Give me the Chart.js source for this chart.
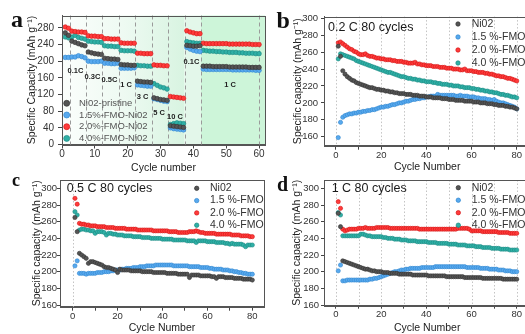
<!DOCTYPE html>
<html>
<head>
<meta charset="utf-8">
<script src="https://cdn.jsdelivr.net/npm/chart.js@4.4.1/dist/chart.umd.min.js"></script>
<style>
  html, body { margin: 0; padding: 0; background: #fff; overflow: hidden; width: 525px; height: 334px; }
  canvas { position: absolute; }
</style>
</head>
<body>
<canvas id="pa" width="270" height="176" style="left:0;top:0"></canvas>
<canvas id="pb" width="300" height="176" style="left:262px;top:0"></canvas>
<canvas id="pc" width="270" height="164" style="left:0;top:170px"></canvas>
<canvas id="pd" width="300" height="164" style="left:262px;top:170px"></canvas>
<script>
// ---- data ----
const cycA = [1,2,3,4,5,6,7,8,9,10,11,12,13,14,15,16,17,18,19,20,21,22,23,24,25,26,27,28,29,30,
  31,32,33,34,35,36,37,38,39,40,41,42,43,44,45,46,47,48,49,50,51,52,53,54,55,56,57,58,59,60];
const cyc80 = [1,2,3,4,5,6,7,8,9,10,11,12,13,14,15,16,17,18,19,20,21,22,23,24,25,26,27,28,29,30,
  31,32,33,34,35,36,37,38,39,40,41,42,43,44,45,46,47,48,49,50,51,52,53,54,55,56,57,58,59,60,
  61,62,63,64,65,66,67,68,69,70,71,72,73,74,75,76,77,78,79,80];

const namesA = ['Ni02-pristine', '1.5%-FMO-Ni02', '2.0%-FMO-Ni02', '4.0%-FMO-Ni02'];
const namesBCD = ['Ni02', '1.5 %-FMO', '2.0 %-FMO', '4.0 %-FMO'];

// panel a : rate capability
const grayA = [268,262, 248,245,242,239,237, 222,220,218,217,216, 207,206,205,205,204, 192,191,191,190,190,
  152,151,150,150,149, 112,110,108,107,106, 45,44,43,42,41, 238,237,236,236,237,
  188,188,188,187,187,187,187,187,186,186,186,186,186,186,185,185,185,185];
const blueA = [209,209, 210,210,213,211,208, 200,199,199,199,200, 195,195,194,194,195, 183,183,183,183,184,
  143,142,141,140,140, 110,108,106,104,103, 40,38,37,36,35, 233,229,226,224,223,
  181,180,180,180,180,180,180,180,180,179,179,179,179,179,179,179,178,178];
const redA = [282,279, 272,271,270,270,269, 261,260,260,259,259, 254,254,253,253,253, 244,243,243,243,243,
  219,219,218,218,218, 191,190,190,189,189, 115,114,113,112,111, 273,270,268,266,266,
  243,242,242,242,242,242,242,242,241,241,241,241,241,241,241,240,240,240];
const tealA = [258,256, 258,262,257,255,253, 248,247,246,246,245, 237,236,236,235,235, 226,225,225,225,224,
  190,189,189,188,188, 146,142,138,136,133, 48,50,52,51,50, 247,245,244,243,243,
  226,225,224,224,223,223,222,222,221,221,221,220,220,219,219,219,218,218];
const rateLabels = ['0.1C', '0.3C', '0.5C', '1 C', '3 C', '5 C', '10 C', '0.1C', '1 C'];
const rateEdges = [2.3, 7.3, 12.3, 17.3, 22.3, 27.3, 32.3, 37.3, 42.3, 60];

// panel b : 0.2 C
const grayB = [267,255,238,234,231,229,227,226,224,223, 222,221,220,219,218,218,217,216,216,215,
  215,214,214,213,213,212,212,211,211,211, 210,210,210,209,209,209,208,208,208,207,
  207,207,206,206,206,206,205,205,205,204, 204,204,203,203,203,203,202,202,202,202,
  201,201,201,200,200,200,199,199,199,198, 198,197,197,197,196,196,195,195,194,193];
const blueB = [159,177,183,185,186,187,187,188,188,189, 189,190,190,191,191,192,192,193,194,195,
  195,196,196,197,198,198,199,200,200,201, 202,202,203,204,204,205,205,206,206,207,
  207,208,208,208,210,209,209,209,209,209, 209,209,208,208,209,208,208,208,207,207,
  207,206,206,205,205,205,204,204,203,204, 202,201,200,200,199,198,197,196,195,193];
const redB = [271,272,270,268,266,264,263,261,260,258, 257,257,258,256,255,255,254,253,253,252,
  252,251,251,251,250,250,249,249,249,248, 248,247,247,247,248,246,246,245,245,244,
  244,244,243,243,243,242,242,242,241,241, 241,240,240,240,239,239,240,238,238,238,
  237,237,236,236,236,235,235,234,234,233, 232,232,231,231,230,229,229,228,227,226];
const tealB = [252,258,257,256,255,254,253,252,250,249, 248,247,246,245,244,243,242,241,240,239,
  238,237,236,236,235,234,233,232,231,231, 230,229,229,228,228,227,227,226,226,225,
  225,225,224,224,223,223,222,222,222,221, 221,220,220,220,219,219,218,218,218,217,
  217,216,216,215,215,214,214,213,213,212, 212,211,210,210,209,209,208,207,207,206];

// panel c : 0.5 C
const grayC = [265,248,222,220,218,216,210,212,212,211, 210,209,208,206,205,205,204,203,202,199,
  203,202,202,202,202,201,201,201,201,201, 200,200,200,200,200,199,199,199,199,199,
  199,198,198,198,198,198,197,197,197,197, 197,193,196,196,196,196,195,195,195,195,
  195,194,194,192,194,194,194,193,193,193, 193,192,192,192,192,191,191,191,191,190];
const blueC = [207,213,198,198,198,197,198,198,198,198, 199,199,199,200,200,200,201,201,202,202,
  202,203,203,204,204,204,205,205,205,206, 206,206,207,207,207,207,208,208,208,208,
  208,208,208,208,207,207,207,207,207,207, 207,206,206,206,206,206,205,205,205,205,
  204,204,203,203,203,203,202,202,202,201, 201,200,200,199,199,198,198,197,197,197];
const redC = [288,281,258,257,257,256,256,255,255,255, 254,254,254,254,253,253,253,253,252,252,
  252,252,252,251,251,251,251,251,250,250, 250,250,250,250,250,249,249,249,249,249,
  249,249,248,248,248,248,247,247,247,247, 247,248,248,248,249,248,247,247,246,246,
  246,246,246,245,245,245,245,245,245,245, 244,244,244,244,243,243,243,243,242,242];
const tealC = [272,268,250,251,251,250,250,249,249,246, 248,248,248,247,244,246,246,245,245,244,
  244,244,243,243,243,243,242,242,242,242, 241,241,241,241,240,240,240,240,240,239,
  239,239,239,239,238,238,238,238,238,238, 237,237,237,237,235,237,237,237,237,236,
  236,236,236,235,235,235,235,234,234,233, 234,233,233,233,233,232,230,232,232,232];

// panel d : 1 C
const grayD = [270,254,213,212,211,210,209,208,207,206, 205,204,203,203,202,201,201,200,200,200,
  199,199,199,198,198,198,198,197,197,197, 197,197,197,196,196,196,196,196,196,196,
  195,195,195,195,195,195,195,195,194,194, 194,194,194,194,194,194,193,193,193,193,
  193,193,193,193,192,192,192,192,192,192, 192,192,192,191,191,191,191,191,191,191];
const blueD = [201,208,189,189,190,190,190,190,190,190, 190,190,190,190,191,191,192,192,193,194,
  195,196,197,198,199,200,200,201,202,202, 203,203,204,204,204,204,204,205,205,205,
  205,205,205,206,206,206,206,206,206,206, 206,206,206,206,206,206,206,205,205,205,
  205,205,205,204,204,204,204,203,203,203, 203,202,202,202,201,201,201,200,200,200];
const redD = [284,276,251,249,250,251,251,251,251,252, 252,252,253,252,252,252,252,253,253,253,
  253,253,253,252,252,252,252,252,252,252, 252,252,252,252,252,252,251,251,251,251,
  251,251,251,251,251,251,251,251,251,251, 251,251,251,252,252,252,252,252,251,249,
  249,249,249,249,248,248,248,248,248,248, 248,247,247,247,247,247,246,246,246,246];
const tealD = [271,268,243,243,243,243,243,243,243,243, 245,245,244,243,243,242,242,242,242,242,
  241,241,240,240,240,239,239,239,238,238, 238,237,237,237,237,236,236,236,236,236,
  235,235,235,235,234,234,234,234,234,233, 233,233,233,232,232,232,232,231,231,231,
  231,230,230,230,229,229,229,229,228,228, 228,228,227,227,227,227,226,226,226,226];

const ticksAx = [0, 10, 20, 30, 40, 50, 60];
const ticksAy = [0, 20, 40, 60, 80, 100, 120, 140, 160, 180, 200, 220, 240, 260, 280];
const ticks80 = [0, 10, 20, 30, 40, 50, 60, 70, 80];
const ticksCap = [160, 170, 180, 190, 200, 210, 220, 230, 240, 250, 260, 270, 280, 290, 300];

// ---- styling ----
Chart.defaults.font.family = "'Liberation Sans', Arial, sans-serif";
Chart.defaults.color = '#333';
const FILL = ['#555555', '#58a9ee', '#ff3b3b', '#2fb0a6'];
const EDGE = ['#333333', '#2f86d0', '#d41414', '#1b8a83'];

function xy(xs, ys) {
  return ys.map((y, i) => ({ x: xs[i], y: y }));
}

function makeSets(xs, series, names, r) {
  return series.map((ys, i) => ({
    label: names[i],
    data: xy(xs, ys),
    showLine: false,
    pointRadius: r,
    pointBackgroundColor: FILL[i],
    pointBorderColor: EDGE[i],
    pointBorderWidth: 0.6
  }));
}

function txt(ctx, s, x, y, font, color, align) {
  ctx.font = font;
  ctx.fillStyle = color;
  ctx.textAlign = align || 'left';
  ctx.textBaseline = 'middle';
  ctx.fillText(s, x, y);
}

// extra drawing: background, dashed lines, frame, in-plot text, legend, panel letter
function decor(spec) {
  return {
    id: 'decor',
    beforeDraw(chart) {
      const { ctx, chartArea: a, scales: { x } } = chart;
      if (!spec.green) return;
      ctx.save();
      const p1 = x.getPixelForValue(37.3), p2 = x.getPixelForValue(42.3);
      const g = ctx.createLinearGradient(a.left, 0, p1, 0);
      g.addColorStop(0, '#fbfefc');
      g.addColorStop(0.5, '#eefaf2');
      g.addColorStop(1, '#d8f4e1');
      ctx.fillStyle = g;
      ctx.fillRect(a.left, a.top, p1 - a.left, a.bottom - a.top);
      ctx.fillStyle = '#e3f7ea';
      ctx.fillRect(p1, a.top, p2 - p1, a.bottom - a.top);
      ctx.fillStyle = '#cdf5d9';
      ctx.fillRect(p2, a.top, a.right - p2, a.bottom - a.top);
      ctx.restore();
    },
    beforeDatasetsDraw(chart) {
      const { ctx, chartArea: a, scales: { x } } = chart;
      ctx.save();
      ctx.lineWidth = 1;
      if (spec.dashed) {
        ctx.strokeStyle = '#9a9a9a';
        ctx.setLineDash([4, 3]);
        spec.dashed.forEach(v => {
          const px = Math.round(x.getPixelForValue(v)) + 0.5;
          ctx.beginPath(); ctx.moveTo(px, a.top); ctx.lineTo(px, a.bottom); ctx.stroke();
        });
      }
      if (spec.dotted) {
        ctx.strokeStyle = '#c4c4c4';
        ctx.setLineDash([1.5, 2]);
        spec.dotted.forEach(v => {
          const px = Math.round(x.getPixelForValue(v)) + 0.5;
          ctx.beginPath(); ctx.moveTo(px, a.top); ctx.lineTo(px, a.bottom); ctx.stroke();
        });
      }
      ctx.restore();
    },
    afterDraw(chart) {
      const { ctx, chartArea: a } = chart;
      ctx.save();
      ctx.strokeStyle = '#555';
      ctx.lineWidth = 1;
      ctx.strokeRect(Math.round(a.left) + 0.5, Math.round(a.top) + 0.5,
        Math.round(a.right - a.left), Math.round(a.bottom - a.top));
      if (spec.title) {
        txt(ctx, spec.title.text, spec.title.x, spec.title.y, '12.5px "Liberation Sans"', '#1a1a1a');
      }
      if (spec.legend) {
        const L = spec.legend;
        L.names.forEach((n, i) => {
          const y = L.y + i * L.dy;
          ctx.beginPath();
          ctx.arc(L.mx, y, L.r, 0, Math.PI * 2);
          ctx.fillStyle = FILL[i];
          ctx.fill();
          ctx.strokeStyle = EDGE[i];
          ctx.lineWidth = 0.7;
          ctx.stroke();
          txt(ctx, n, L.tx, y, L.font, L.color);
        });
      }
      if (spec.rates) {
        spec.rates.labels.forEach((s, i) => {
          const p = spec.rates.pos[i];
          txt(ctx, s, p[0], p[1], 'bold 7.5px "Liberation Sans"', '#222', 'center');
        });
      }
      if (spec.letter) {
        ctx.font = spec.letter.font;
        ctx.fillStyle = '#111';
        ctx.textAlign = 'left';
        ctx.textBaseline = 'alphabetic';
        ctx.fillText(spec.letter.text, spec.letter.x, spec.letter.y);
      }
      ctx.restore();
    }
  };
}

function fixTicks(list) {
  return s => { s.ticks = list.map(v => ({ value: v })); };
}

function panel(id, p) {
  new Chart(document.getElementById(id), {
    type: 'scatter',
    data: { datasets: p.datasets },
    options: {
      responsive: false,
      animation: false,
      events: [],
      layout: { padding: p.pad },
      plugins: { legend: { display: false }, tooltip: { enabled: false } },
      scales: {
        x: {
          type: 'linear', min: p.xmin, max: p.xmax,
          afterBuildTicks: fixTicks(p.xticks),
          afterFit: s => { s.height = p.xh; },
          ticks: { font: { size: p.fs }, color: '#333', padding: 0, maxRotation: 0,
            callback: v => (v % p.xlab === 0 ? v : '') },
          grid: { drawOnChartArea: false, color: '#444', tickColor: '#444', tickLength: p.xtl },
          border: { color: '#555' },
          title: { display: true, text: p.xtitle, font: { size: 10.5 }, color: '#222',
            padding: { top: 0, bottom: p.xtpad } }
        },
        y: {
          type: 'linear', min: p.ymin, max: p.ymax,
          afterBuildTicks: fixTicks(p.yticks),
          afterFit: s => { s.width = p.yw; },
          ticks: { font: { size: p.fs }, color: '#333', padding: p.ypad,
            callback: v => (v % p.ylab === 0 ? v : '') },
          grid: { drawOnChartArea: false, color: '#444', tickColor: '#444', tickLength: p.ytl },
          border: { color: '#555' },
          title: { display: true, text: p.ytitle, font: { size: 10.5 }, color: '#222',
            padding: { top: p.ytpad, bottom: 0 } }
        }
      }
    },
    plugins: [decor(p.decor)]
  });
}

// a
panel('pa', {
  datasets: makeSets(cycA, [grayA, blueA, redA, tealA], namesA, 2.3),
  pad: { left: 0, top: 15.5, right: 5, bottom: 0 },
  xmin: 0, xmax: 61.8, xticks: ticksAx, xlab: 10, xh: 31.5, xtl: 4, xtitle: 'Cycle number', xtpad: 1.7,
  ymin: 0, ymax: 309.6, yticks: ticksAy, ylab: 40, yw: 62, ytl: 4, ypad: 4,
  ytitle: 'Specific Capacity (mAh g\u207B\u00B9)', ytpad: 26, fs: 10,
  decor: {
    green: true, dashed: rateEdges,
    legend: { names: namesA, mx: 66.7, tx: 79, y: 103.3, dy: 11.7, r: 3, font: '9.5px "Liberation Sans"', color: '#555' },
    rates: { labels: rateLabels, pos: [[75.5, 70.7], [92.5, 76.7], [109.5, 80], [126, 85], [142.5, 96.7], [159, 113], [175, 117], [191.5, 62], [230, 85]] },
    letter: { text: 'a', x: 11, y: 27, font: 'bold 24px "Liberation Serif"' }
  }
});

// b
panel('pb', {
  datasets: makeSets(cyc80, [grayB, blueB, redB, tealB], namesBCD, 2.1),
  pad: { left: 0, top: 16.6, right: 31.7, bottom: 0 },
  xmin: -5.31, xmax: 86, xticks: ticks80, xlab: 20, xh: 30.3, xtl: 4, xtitle: 'Cycle Number', xtpad: 2.7,
  ymin: 149.4, ymax: 302, yticks: ticksCap, ylab: 20, yw: 62, ytl: 3, ypad: 3,
  ytitle: 'Specific capacity (mAh g\u207B\u00B9)', ytpad: 29.5, fs: 9.5,
  decor: {
    dotted: ticks80,
    title: { text: '0.2 C 80 cycles', x: 66, y: 28 },
    legend: { names: namesBCD, mx: 196, tx: 209.7, y: 24, dy: 13, r: 2.2, font: '10.5px "Liberation Sans"', color: '#333' },
    letter: { text: 'b', x: 14.5, y: 28, font: 'bold 24px "Liberation Serif"' }
  }
});

// c
panel('pc', {
  datasets: makeSets(cyc80, [grayC, blueC, redC, tealC], namesBCD, 2.1),
  pad: { left: 0, top: 10, right: 6, bottom: 0 },
  xmin: -5.66, xmax: 85.2, xticks: ticks80, xlab: 20, xh: 27.3, xtl: 4, xtitle: 'Cycle Number', xtpad: 0,
  ymin: 158, ymax: 310, yticks: ticksCap, ylab: 20, yw: 60, ytl: 3, ypad: 0,
  ytitle: 'Specific capacity (mAh g\u207B\u00B9)', ytpad: 31, fs: 9.5,
  decor: {
    dotted: [0],
    title: { text: '0.5 C 80 cycles', x: 66.7, y: 19 },
    legend: { names: namesBCD, mx: 196.7, tx: 210, y: 18.3, dy: 12.3, r: 2.2, font: '10.5px "Liberation Sans"', color: '#333' },
    letter: { text: 'c', x: 12, y: 15.7, font: 'bold 18px "Liberation Serif"' }
  }
});

// d
panel('pd', {
  datasets: makeSets(cyc80, [grayD, blueD, redD, tealD], namesBCD, 2.1),
  pad: { left: 0, top: 10, right: 31.7, bottom: 0 },
  xmin: -5.31, xmax: 86, xticks: ticks80, xlab: 20, xh: 28.3, xtl: 3, xtitle: 'Cycle Number', xtpad: 0,
  ymin: 159.2, ymax: 310, yticks: ticksCap, ylab: 20, yw: 62, ytl: 3, ypad: 2,
  ytitle: 'Specific capacity (mAh g\u207B\u00B9)', ytpad: 29, fs: 9.5,
  decor: {
    dotted: ticks80,
    title: { text: '1 C 80 cycles', x: 69.7, y: 19 },
    legend: { names: namesBCD, mx: 196.3, tx: 209.7, y: 17.7, dy: 12.5, r: 2.2, font: '10.5px "Liberation Sans"', color: '#333' },
    letter: { text: 'd', x: 15, y: 21, font: 'bold 20px "Liberation Serif"' }
  }
});
</script>
</body>
</html>
